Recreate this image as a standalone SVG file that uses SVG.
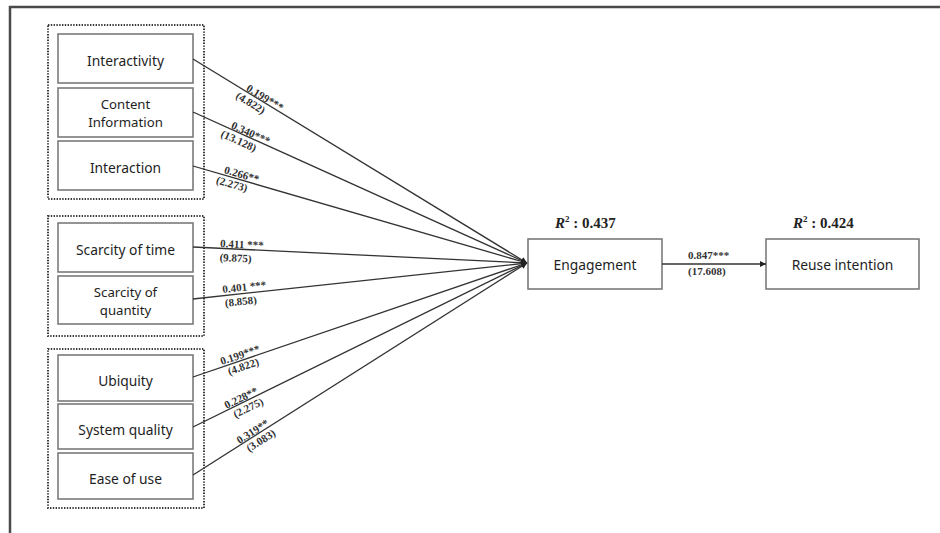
<svg xmlns="http://www.w3.org/2000/svg" width="940" height="533" viewBox="0 0 940 533">
  <style>
    .frame { fill: none; stroke: #4a4a4a; stroke-width: 2.5; }
    .group { fill: none; stroke: #3a3a3a; stroke-width: 2; stroke-dasharray: 1.4 1.4; }
    .box { fill: #fff; stroke: #7a7a7a; stroke-width: 1.6; }
    .lbl { font-family: "Noto Sans", "Open Sans", sans-serif; font-size: 13.8px; fill: #1e1e1e; text-anchor: middle; }
    .lbl2 { font-size: 13.2px; }
    .edge { fill: none; stroke: #333; stroke-width: 1.3; }
    .coef { font-family: "Liberation Serif", serif; font-size: 11px; font-weight: bold; fill: #333; }
    .r2 { font-family: "Liberation Serif", serif; font-size: 15px; font-weight: bold; fill: #222; }
  </style>
  <defs>
    <marker id="head" viewBox="0 0 10 10" refX="10" refY="5" markerWidth="6" markerHeight="6" markerUnits="userSpaceOnUse" orient="auto">
      <path d="M0,0 L10,5 L0,10 z" fill="#222"/>
    </marker>
  </defs>

  <rect width="940" height="533" fill="#fff"/>
  <!-- outer frame: top and left rules -->
  <path class="frame" d="M10,533 V7 H940"/>

  <!-- construct groups -->
  <rect class="group" x="48" y="25" width="156" height="174"/>
  <rect class="group" x="48" y="216" width="156" height="120"/>
  <rect class="group" x="48" y="349" width="156" height="159"/>

  <g id="interactivity"><rect class="box" x="58" y="34" width="135" height="49"/><text class="lbl" x="125.5" y="66">Interactivity</text></g>
  <g id="content-information"><rect class="box" x="58" y="88" width="135" height="49"/><text class="lbl lbl2" x="125.5" y="108.5">Content</text><text class="lbl lbl2" x="125.5" y="127">Information</text></g>
  <g id="interaction"><rect class="box" x="58" y="141" width="135" height="49"/><text class="lbl" x="125.5" y="173">Interaction</text></g>

  <g id="scarcity-time"><rect class="box" x="58" y="223" width="135" height="49"/><text class="lbl" x="125.5" y="255">Scarcity of time</text></g>
  <g id="scarcity-quantity"><rect class="box" x="58" y="276" width="135" height="48"/><text class="lbl lbl2" x="125.5" y="296.5">Scarcity of</text><text class="lbl lbl2" x="125.5" y="315">quantity</text></g>

  <g id="ubiquity"><rect class="box" x="58" y="355" width="135" height="46"/><text class="lbl" x="125.5" y="386">Ubiquity</text></g>
  <g id="system-quality"><rect class="box" x="58" y="404" width="135" height="45"/><text class="lbl" x="125.5" y="435">System quality</text></g>
  <g id="ease-of-use"><rect class="box" x="58" y="453" width="135" height="46"/><text class="lbl" x="125.5" y="484">Ease of use</text></g>

  <g id="engagement"><rect class="box" x="528" y="239" width="134" height="50"/><text class="lbl" x="595" y="270">Engagement</text>
    <text class="r2" x="555" y="228"><tspan font-style="italic">R</tspan><tspan font-size="9" dy="-6">2</tspan><tspan dy="6"> : 0.437</tspan></text></g>
  <g id="reuse-intention"><rect class="box" x="766" y="239" width="153" height="50"/><text class="lbl" x="842.5" y="270">Reuse intention</text>
    <text class="r2" x="793" y="228"><tspan font-style="italic">R</tspan><tspan font-size="9" dy="-6">2</tspan><tspan dy="6"> : 0.424</tspan></text></g>

  <g id="connectors">
    <line class="edge" x1="193" y1="59" x2="527" y2="263" marker-end="url(#head)"/>
    <line class="edge" x1="193" y1="112" x2="527" y2="263" marker-end="url(#head)"/>
    <line class="edge" x1="193" y1="166" x2="527" y2="263" marker-end="url(#head)"/>
    <line class="edge" x1="193" y1="247" x2="527" y2="263" marker-end="url(#head)"/>
    <line class="edge" x1="193" y1="299" x2="527" y2="263" marker-end="url(#head)"/>
    <line class="edge" x1="193" y1="377" x2="527" y2="263" marker-end="url(#head)"/>
    <line class="edge" x1="193" y1="427" x2="527" y2="263" marker-end="url(#head)"/>
    <line class="edge" x1="193" y1="475" x2="527" y2="263" marker-end="url(#head)"/>
    <line class="edge" x1="662" y1="264" x2="766" y2="264" marker-end="url(#head)"/>

    <!-- path coefficients (t-values) laid along each line -->
    <g class="coef" transform="translate(245,91) rotate(31.3)"><text x="0" y="-1">0.199***</text><text x="-5" y="11">(4.822)</text></g>
    <g class="coef" transform="translate(230,129) rotate(24.2)"><text x="0" y="-1">0.340***</text><text x="-6" y="11">(13.128)</text></g>
    <g class="coef" transform="translate(223,175) rotate(16.1)"><text x="0" y="-2">0.266**</text><text x="-5" y="10">(2.273)</text></g>
    <g class="coef" transform="translate(220,248) rotate(2.7)"><text x="0" y="-1">0.411 ***</text><text x="0" y="13">(9.875)</text></g>
    <g class="coef" transform="translate(223,295) rotate(-6.1)"><text x="0" y="-2">0.401 ***</text><text x="1" y="12">(8.858)</text></g>
    <g class="coef" transform="translate(222,366) rotate(-18.7)"><text x="0" y="-1">0.199***</text><text x="4" y="11">(4.822)</text></g>
    <g class="coef" transform="translate(227,410) rotate(-26)"><text x="0" y="-1">0.228**</text><text x="4" y="11">(2.275)</text></g>
    <g class="coef" transform="translate(240,445) rotate(-32.2)"><text x="0" y="-1">0.319**</text><text x="4" y="11">(3.083)</text></g>
    <g class="coef"><text x="688" y="259">0.847***</text><text x="688" y="275">(17.608)</text></g>
  </g>
</svg>
